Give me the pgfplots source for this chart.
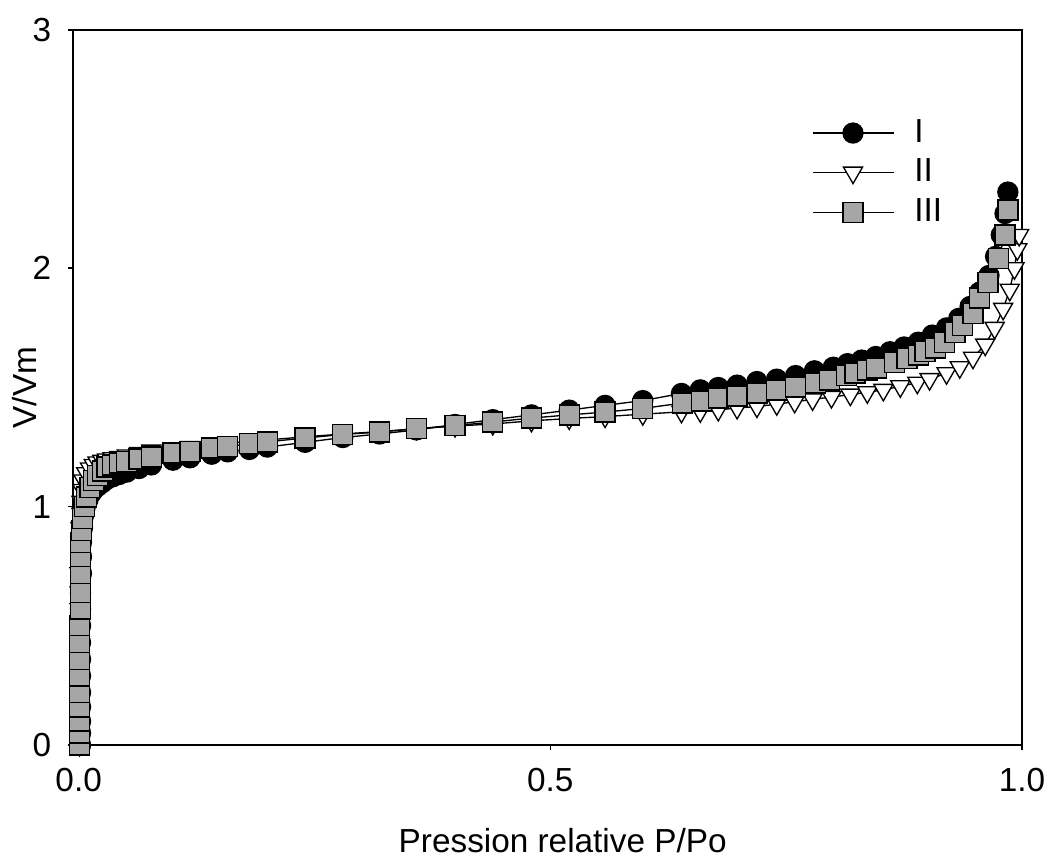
\documentclass[border=0pt]{standalone}
\usepackage{fontspec}
\setmainfont{Liberation Sans}
\usepackage{pgfplots}
\pgfplotsset{compat=1.18}
\definecolor{sqgray}{HTML}{A6A6A6}
\begin{document}
\fontsize{10}{12}\selectfont
\begin{tikzpicture}
\begin{axis}[width=284.7pt,height=214.5pt,scale only axis,
  xmin=-0.006,xmax=1,ymin=0,ymax=3,clip=false,
  xtick={0,0.5,1},xticklabels={0.0,0.5,1.0},ytick={0,1,2,3},
  tick pos=left,tick align=outside,major tick length=1.5pt,
  tick style={black,line width=0.5pt},axis line style={line width=0.6pt},
  /pgf/number format/assume math mode=true,
  tick label style={font=\fontsize{10}{12}\selectfont},
  xticklabel style={yshift=-2pt},yticklabel style={xshift=-1.5pt},
  xlabel={Pression relative P/Po},ylabel={V/Vm},
  xlabel style={at={(axis description cs:0.516,-0.133)},anchor=center},
  ylabel style={at={(axis description cs:-0.051,0.5)},anchor=center},
  legend style={draw=none,fill=none,at={(axis description cs:0.768,0.895)},anchor=north west,
    row sep=-0.5pt,font=\fontsize{10}{12}\selectfont,
    /tikz/every odd column/.append style={column sep=4pt}},
  legend cell align=left,
  legend image code/.code={\draw[mark repeat=2,mark phase=2,#1] plot coordinates {(0cm,0cm) (0.42cm,0cm) (0.85cm,0cm)};},
  every axis plot/.append style={line width=0.4pt,black}]

% I - filled circles
\addplot[mark=*,mark size=3pt,mark options={fill=black,draw=black}] coordinates {
(0.002,0.0) (0.002,0.05) (0.002,0.10) (0.002,0.16) (0.002,0.22) (0.002,0.29) (0.002,0.36)
(0.002,0.43) (0.002,0.50) (0.002,0.57) (0.002,0.64) (0.003,0.72) (0.003,0.79) (0.003,0.85)
(0.004,0.91) (0.005,0.96) (0.007,1.0) (0.010,1.03) (0.014,1.06) (0.020,1.085) (0.025,1.10)
(0.030,1.115) (0.036,1.125) (0.043,1.135) (0.051,1.145) (0.064,1.16) (0.077,1.175) (0.100,1.195)
(0.118,1.205) (0.141,1.22) (0.158,1.23) (0.181,1.24) (0.200,1.25) (0.240,1.27) (0.280,1.29)
(0.319,1.305) (0.358,1.322) (0.399,1.345) (0.439,1.365) (0.480,1.385) (0.520,1.405) (0.558,1.425)
(0.598,1.445) (0.639,1.475) (0.659,1.49) (0.678,1.50) (0.698,1.51) (0.719,1.525) (0.740,1.535)
(0.760,1.55) (0.780,1.57) (0.800,1.585) (0.815,1.60) (0.830,1.615) (0.845,1.63) (0.860,1.65)
(0.875,1.67) (0.890,1.69) (0.905,1.72) (0.920,1.75) (0.933,1.79) (0.945,1.84) (0.955,1.90)
(0.965,1.97) (0.972,2.05) (0.978,2.14) (0.982,2.23) (0.985,2.32)};
\addlegendentry{I}

% II - open down triangles
\addplot[mark=triangle*,mark size=3.3pt,mark options={fill=white,draw=black,rotate=180}] coordinates {
(0.001,0.0) (0.001,0.05) (0.001,0.10) (0.001,0.16) (0.001,0.22) (0.001,0.29) (0.001,0.36)
(0.001,0.43) (0.001,0.50) (0.001,0.57) (0.001,0.64) (0.001,0.72) (0.002,0.79) (0.002,0.85)
(0.002,0.91) (0.003,0.97) (0.003,1.02) (0.004,1.07) (0.005,1.11) (0.008,1.14) (0.012,1.16)
(0.016,1.175) (0.020,1.185) (0.025,1.192) (0.030,1.198) (0.036,1.203) (0.043,1.208) (0.051,1.215)
(0.064,1.225) (0.077,1.235) (0.100,1.245) (0.118,1.25) (0.141,1.26) (0.158,1.265) (0.181,1.275)
(0.200,1.28) (0.240,1.293) (0.280,1.305) (0.319,1.315) (0.358,1.327) (0.399,1.338) (0.439,1.347)
(0.480,1.36) (0.520,1.37) (0.558,1.378) (0.598,1.388) (0.639,1.398) (0.659,1.40) (0.678,1.406)
(0.698,1.414) (0.719,1.42) (0.740,1.43) (0.759,1.44) (0.778,1.45) (0.798,1.46) (0.818,1.47)
(0.836,1.48) (0.853,1.49) (0.871,1.505) (0.889,1.52) (0.902,1.535) (0.920,1.56) (0.934,1.585)
(0.948,1.625) (0.961,1.68) (0.971,1.75) (0.980,1.83) (0.987,1.91) (0.992,2.0) (0.995,2.08)
(0.997,2.14)};
\addlegendentry{II}

% III - grey squares
\addplot[mark=square*,mark size=3pt,mark options={fill=sqgray,draw=black}] coordinates {
(0.001,0.0) (0.001,0.05) (0.001,0.10) (0.001,0.16) (0.001,0.22) (0.001,0.29) (0.001,0.36)
(0.001,0.43) (0.001,0.50) (0.002,0.57) (0.002,0.64) (0.002,0.72) (0.002,0.79) (0.002,0.85)
(0.003,0.90) (0.004,0.95) (0.006,1.00) (0.008,1.04) (0.012,1.08) (0.016,1.11) (0.020,1.13)
(0.025,1.15) (0.030,1.167) (0.036,1.175) (0.043,1.183) (0.051,1.19) (0.064,1.20) (0.077,1.209)
(0.100,1.225) (0.118,1.232) (0.141,1.246) (0.158,1.252) (0.181,1.265) (0.200,1.272) (0.240,1.288)
(0.280,1.303) (0.319,1.313) (0.358,1.327) (0.399,1.340) (0.439,1.355) (0.480,1.372) (0.520,1.385)
(0.558,1.397) (0.598,1.412) (0.640,1.435) (0.660,1.444) (0.678,1.456) (0.698,1.465) (0.719,1.477)
(0.740,1.490) (0.760,1.502) (0.781,1.519) (0.796,1.532) (0.814,1.550) (0.823,1.561) (0.836,1.574)
(0.846,1.582) (0.865,1.605) (0.878,1.622) (0.890,1.637) (0.897,1.650) (0.908,1.666) (0.918,1.690)
(0.929,1.730) (0.937,1.760) (0.948,1.810) (0.955,1.876) (0.964,1.94) (0.975,2.04) (0.982,2.14)
(0.985,2.245)};
\addlegendentry{III}
\end{axis}
\pgfresetboundingbox
\path ([shift={(-21.9pt,-36pt)}]current axis.south west) rectangle ([shift={(294pt,223.5pt)}]current axis.south west);
\end{tikzpicture}
\end{document}
